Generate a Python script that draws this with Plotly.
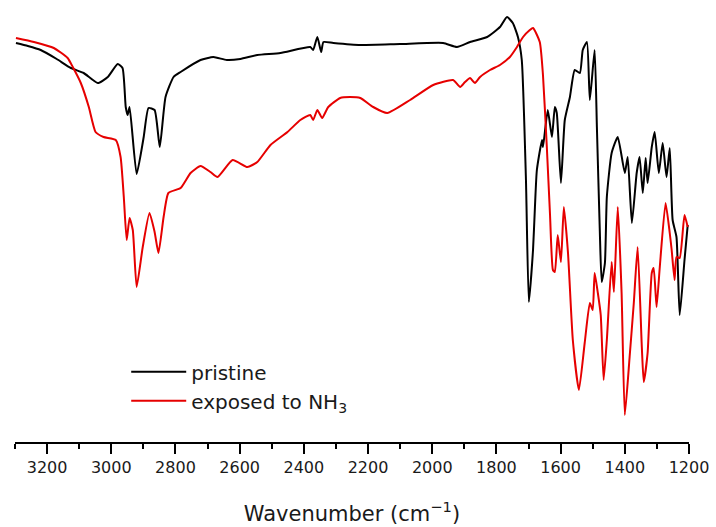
import plotly.graph_objects as go

# Wavenumber (cm^-1) and transmittance (arbitrary units)
pristine_wn = [3297, 3260, 3220, 3170, 3126, 3086, 3042, 3011, 2980, 2965, 2955, 2949, 2943, 2921,
               2899, 2884, 2865, 2849, 2831, 2806, 2784, 2722, 2682, 2640, 2598, 2545, 2473, 2380,
               2371, 2358, 2346, 2339, 2308, 2224, 2100, 1966, 1923, 1882, 1829, 1789, 1767, 1749,
               1733, 1721, 1708, 1699, 1686, 1680, 1674, 1658, 1655, 1640, 1627, 1618, 1612, 1599,
               1587, 1571, 1556, 1540, 1531, 1518, 1509, 1494, 1487, 1478, 1472, 1462, 1456, 1441,
               1422, 1400, 1391, 1378, 1363, 1354, 1344, 1335, 1329, 1316, 1307, 1294, 1282, 1270,
               1260, 1251, 1239, 1229, 1214, 1204]
pristine_t = [399, 396, 392, 383, 374, 369, 359, 365, 378, 374, 335, 327, 335, 268,
              305, 334, 332, 295, 345, 365, 370, 382, 385, 382, 383, 387, 389, 395,
              392, 405, 390, 400, 399, 397, 398, 399, 395, 400, 405, 415, 425, 419,
              405, 382, 262, 140, 192, 235, 272, 302, 295, 332, 305, 335, 329, 259,
              322, 345, 372, 369, 392, 400, 342, 392, 315, 212, 160, 179, 245, 289,
              305, 269, 285, 219, 269, 285, 249, 284, 259, 295, 310, 269, 299, 265,
              294, 222, 205, 127, 182, 217]

exposed_wn = [3297, 3241, 3179, 3136, 3120, 3095, 3070, 3049, 3024, 2986, 2971, 2961, 2952, 2943,
              2933, 2921, 2902, 2881, 2865, 2853, 2837, 2822, 2784, 2753, 2722, 2691, 2669, 2622,
              2576, 2545, 2504, 2451, 2411, 2380, 2371, 2358, 2343, 2324, 2287, 2256, 2224, 2184,
              2140, 2069, 1997, 1935, 1913, 1898, 1882, 1867, 1851, 1820, 1789, 1758, 1736, 1717,
              1696, 1686, 1665, 1655, 1643, 1633, 1624, 1618, 1609, 1599, 1590, 1577, 1562, 1543,
              1525, 1509, 1500, 1494, 1484, 1475, 1466, 1456, 1441, 1434, 1422, 1410, 1400, 1385,
              1372, 1360, 1347, 1341, 1329, 1316, 1310, 1301, 1291, 1273, 1260, 1254, 1245, 1239,
              1229, 1214, 1204]
exposed_t = [404, 400, 394, 384, 375, 359, 335, 310, 305, 302, 285, 245, 202, 224,
             212, 155, 195, 229, 210, 189, 225, 249, 254, 269, 276, 270, 265, 282,
             275, 280, 297, 310, 322, 327, 322, 332, 324, 335, 344, 345, 344, 335,
             329, 342, 357, 362, 355, 360, 364, 359, 365, 372, 377, 385, 395, 405,
             412, 414, 400, 367, 295, 227, 172, 170, 207, 180, 235, 189, 102, 52,
             99, 139, 132, 169, 149, 127, 62, 102, 180, 150, 235, 149, 27, 85,
             139, 195, 95, 60, 89, 169, 174, 135, 175, 239, 209, 192, 162, 185,
             184, 227, 215]

x_ticks = [3200, 3000, 2800, 2600, 2400, 2200, 2000, 1800, 1600, 1400, 1200]

FONT = "DejaVu Sans"

fig = go.Figure()
fig.add_trace(go.Scatter(x=pristine_wn, y=pristine_t, mode="lines", name="pristine",
                         line=dict(color="#000000", width=2, shape="spline", smoothing=0.5)))
fig.add_trace(go.Scatter(x=exposed_wn, y=exposed_t, mode="lines", name="exposed to NH<sub>3</sub>",
                         line=dict(color="#e60000", width=2, shape="spline", smoothing=0.5)))

fig.update_layout(
    width=716, height=527,
    margin=dict(l=15, r=27, t=0, b=85),
    paper_bgcolor="white", plot_bgcolor="white",
    font=dict(family=FONT, color="#1a1a1a"),
    showlegend=True,
    legend=dict(x=0.165, y=0.203, xanchor="left", yanchor="top",
                bgcolor="rgba(0,0,0,0)", font=dict(size=20, family=FONT),
                itemwidth=55, tracegroupgap=0),
    xaxis=dict(range=[3300, 1200], tickmode="array", tickvals=x_ticks,
               ticktext=[str(v) for v in x_ticks],
               showline=True, linecolor="black", linewidth=1.5,
               ticks="outside", ticklen=10, tickwidth=1.5, tickcolor="black",
               minor=dict(dtick=100, tick0=1200, ticks="outside", ticklen=5,
                          tickwidth=1.5, tickcolor="black", showgrid=False),
               showgrid=False, zeroline=False,
               tickfont=dict(size=16, family=FONT, color="#1a1a1a"),
               title=dict(text="Wavenumber (cm<sup>−1</sup>)", standoff=30,
                          font=dict(size=21, family=FONT, color="#1a1a1a"))),
    yaxis=dict(range=[0, 442], visible=False, showgrid=False, zeroline=False),
)

fig.write_html("out.html")
